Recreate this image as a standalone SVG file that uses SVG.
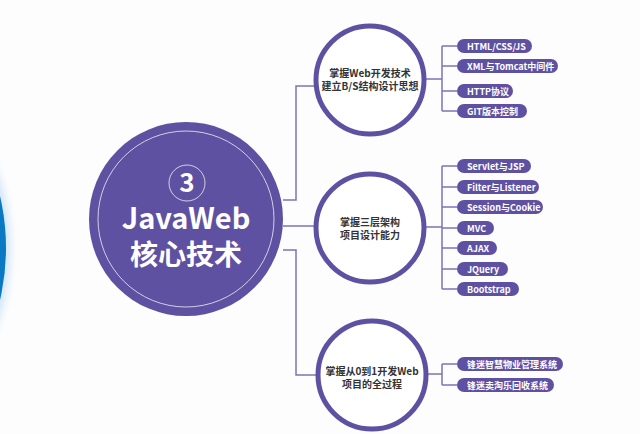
<svg xmlns="http://www.w3.org/2000/svg" width="640" height="434" viewBox="0 0 640 434">
<defs>
<filter id="glow" x="-20%" y="-20%" width="140%" height="140%"><feGaussianBlur stdDeviation="4"/></filter>
<style>
.bg{fill:#fdfdfe}
.conn{fill:none;stroke:#7d72b8;stroke-width:1.5}
.pill{fill:#5f51a1}
.pt{fill:#ffffff;font-family:"Noto Sans CJK SC","Noto Sans",sans-serif;font-size:9px;font-weight:bold}
.sub{fill:#ffffff;stroke:#5f51a1;stroke-width:5}
.st{fill:#333333;font-family:"Noto Sans CJK SC","Noto Sans",sans-serif;font-size:10px;font-weight:bold;text-anchor:middle}
.mt{fill:#ffffff;font-family:"Noto Sans CJK SC","Noto Sans",sans-serif;font-weight:bold;text-anchor:middle}
</style>
</defs>
<rect class="bg" x="0" y="0" width="640" height="434"/>
<g id="blue-arc">
<circle cx="-222" cy="248" r="232" fill="#cfe4f6" filter="url(#glow)"/>
<circle cx="-222" cy="248" r="228" fill="#0a78c2"/>
</g>
<g id="connectors">
<path class="conn" d="M283 200 H296 V86 H316"/>
<path class="conn" d="M283 226 H315"/>
<path class="conn" d="M283 250 H296 V375 H316"/>
<path class="conn" d="M426 79 H442 M442 46 V111 M442 46 H457 M442 66 H457 M442 91 H457 M442 111 H457"/>
<path class="conn" d="M426 227 H442 M442 166 V289 M442 166 H457 M442 187 H457 M442 207 H457 M442 228 H457 M442 248 H457 M442 269 H457 M442 289 H457"/>
<path class="conn" d="M428 374 H442 M442 364 V385 M442 364 H457 M442 385 H457"/>
</g>
<g id="main">
<circle cx="186" cy="219" r="97" fill="#5f51a1"/>
<circle cx="186" cy="219" r="88" fill="none" stroke="#ffffff" stroke-width="0.8" opacity="0.9"/>
<circle cx="187" cy="183" r="18" fill="none" stroke="#ffffff" stroke-width="0.8" opacity="0.9"/>
<text class="mt" x="187" y="192" font-size="26">3</text>
<text class="mt" x="186" y="229" font-size="29">JavaWeb</text>
<text class="mt" x="186" y="265" font-size="28">核心技术</text>
</g>
<g id="node1">
<circle class="sub" cx="370" cy="80" r="54"/>
<text class="st" x="370" y="76.5">掌握Web开发技术</text>
<text class="st" x="370" y="90">建立B/S结构设计思想</text>
</g>
<g id="node2">
<circle class="sub" cx="370" cy="228" r="54"/>
<text class="st" x="370" y="225.5">掌握三层架构</text>
<text class="st" x="370" y="239">项目设计能力</text>
</g>
<g id="node3">
<circle class="sub" cx="372" cy="375" r="54"/>
<text class="st" x="372" y="374.5">掌握从0到1开发Web</text>
<text class="st" x="372" y="388">项目的全过程</text>
</g>
<g id="p1"><rect class="pill" x="457" y="39" width="75" height="14" rx="7"/><text class="pt" x="467" y="49.5">HTML/CSS/JS</text></g>
<g id="p2"><rect class="pill" x="457" y="59" width="101" height="14" rx="7"/><text class="pt" x="467" y="69.5">XML与Tomcat中间件</text></g>
<g id="p3"><rect class="pill" x="457" y="84" width="56" height="14" rx="7"/><text class="pt" x="467" y="94.5">HTTP协议</text></g>
<g id="p4"><rect class="pill" x="457" y="104" width="70" height="14" rx="7"/><text class="pt" x="467" y="114.5">GIT版本控制</text></g>
<g id="p5"><rect class="pill" x="457" y="159" width="74" height="14" rx="7"/><text class="pt" x="467" y="169.5">Servlet与JSP</text></g>
<g id="p6"><rect class="pill" x="457" y="180" width="82" height="14" rx="7"/><text class="pt" x="467" y="190.5">Filter与Listener</text></g>
<g id="p7"><rect class="pill" x="457" y="200" width="86" height="14" rx="7"/><text class="pt" x="467" y="210.5">Session与Cookie</text></g>
<g id="p8"><rect class="pill" x="457" y="221" width="37" height="14" rx="7"/><text class="pt" x="467" y="231.5">MVC</text></g>
<g id="p9"><rect class="pill" x="457" y="241" width="40" height="14" rx="7"/><text class="pt" x="467" y="251.5">AJAX</text></g>
<g id="p10"><rect class="pill" x="457" y="262" width="51" height="14" rx="7"/><text class="pt" x="467" y="272.5">JQuery</text></g>
<g id="p11"><rect class="pill" x="457" y="282" width="62" height="14" rx="7"/><text class="pt" x="467" y="292.5">Bootstrap</text></g>
<g id="p12"><rect class="pill" x="457" y="357" width="106" height="14" rx="7"/><text class="pt" x="467" y="367.5">锋迷智慧物业管理系统</text></g>
<g id="p13"><rect class="pill" x="457" y="378" width="97" height="14" rx="7"/><text class="pt" x="467" y="388.5">锋迷卖淘乐回收系统</text></g>
</svg>
